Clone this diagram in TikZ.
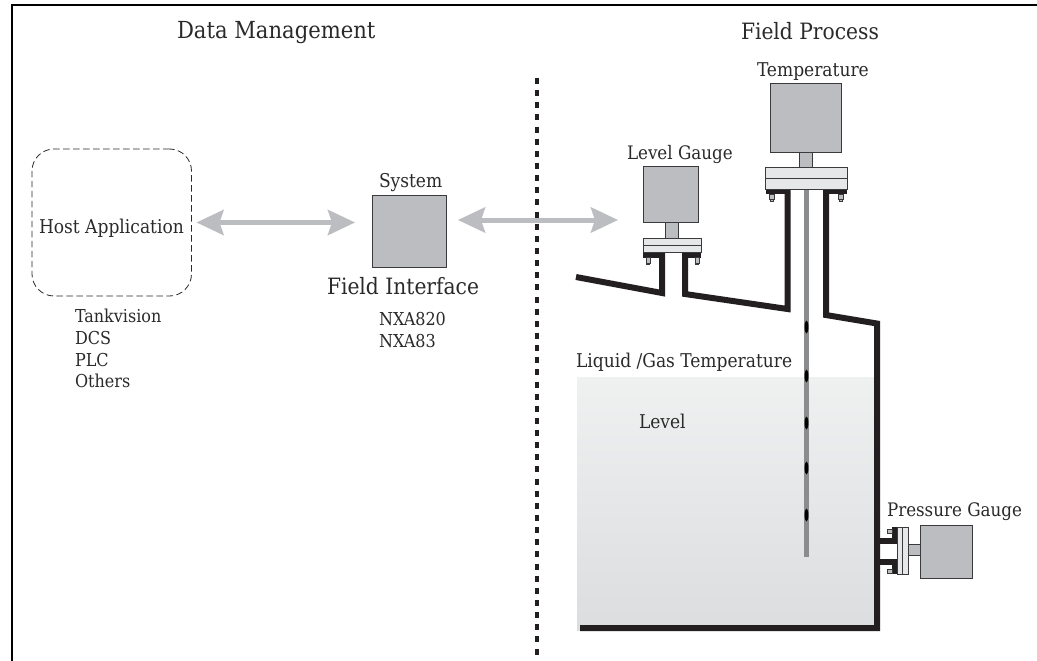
\documentclass[tikz,border=0pt]{standalone}
\usepackage{fontspec}
\setmainfont{DejaVu Serif Condensed}
\usetikzlibrary{arrows.meta}
\definecolor{ink}{HTML}{2B2A2B}
\definecolor{boxgray}{HTML}{BCBDC0}
\definecolor{flangegray}{HTML}{E6E7E8}
\definecolor{arrowgray}{HTML}{BCBDC0}
\definecolor{probegray}{HTML}{8A8C8E}
\definecolor{edgegray}{HTML}{3A3A3C}
\definecolor{pipeblack}{HTML}{231F20}
\definecolor{liquidtop}{HTML}{EFF0F0}
\definecolor{liquidbottom}{HTML}{DCDDDF}
\tikzset{
  lbl/.style={anchor=base west,inner sep=0pt,outer sep=0pt,text=ink},
  ftitle/.style={font=\fontsize{23.5}{23.5}\selectfont},
  fbig/.style={font=\fontsize{22.5}{22.5}\selectfont},
  fmid/.style={font=\fontsize{19}{19}\selectfont},
  fgauge/.style={font=\fontsize{18.6}{18.6}\selectfont},
  fsmall/.style={font=\fontsize{17.8}{17.8}\selectfont},
  graybox/.style={draw=edgegray,line width=1pt,fill=boxgray},
  neckbox/.style={draw=edgegray,line width=0.7pt,fill=boxgray},
  flangebox/.style={draw=edgegray,line width=0.8pt,fill=flangegray},
  pipe/.style={draw=pipeblack,line width=6pt,miter limit=10},
  bolt/.style={fill=boxgray,draw=edgegray,line width=0.5pt},
  biarrow/.style={draw=arrowgray,line width=5pt,{Stealth[length=27pt,width=25pt,inset=4pt]}-{Stealth[length=27pt,width=25pt,inset=4pt]}},
  frameline/.style={draw=black,line width=2.4pt},
  spindle/.style={fill=black},
}
\begin{document}
\begin{tikzpicture}[x=1pt,y=-1pt]
\useasboundingbox (0,0) rectangle (1037,661);
\fill[white] (0,0) rectangle (1037,661);
% frame
\draw[frameline] (12,661) -- (12,5) -- (1037,5);
% separator
\draw[draw=pipeblack,line width=4pt,dash pattern=on 6pt off 6.14pt] (537,78) -- (537,661);
% liquid
\shade[top color=liquidtop,bottom color=liquidbottom] (577,377) rectangle (877,630);
% tank walls
\draw[pipe] (576,277) -- (662,293) -- (662,253);
\draw[pipe] (685,253) -- (685,294) -- (787.5,309) -- (787.5,189);
\draw[pipe] (826,189) -- (826,315) -- (877,323.5) -- (877,628) -- (580,628);
% probe
\draw[draw=probegray,line width=4.4pt] (806.5,189) -- (806.5,557);
\foreach \yy in {327,376,423,468,515}
  \fill[spindle] (806.5,\yy) ellipse (1.9pt and 6.5pt);
% level gauge hardware
\fill[pipeblack] (643,252) rectangle (664,257.5);
\fill[pipeblack] (682,252) rectangle (701,257.5);
\foreach \xx in {648,697} {
  \draw[bolt] (\xx-2.2,257.5) rectangle (\xx+2.2,263);
  \draw[bolt] (\xx-1.4,263) rectangle (\xx+1.4,264.5);
}
\node[neckbox,minimum width=13pt,minimum height=16pt,inner sep=0pt,outer sep=0pt] (lgneck) at (671.5,230) {};
\draw[flangebox] (643.5,238) rectangle (701,252);
\draw[edgegray,line width=0.8pt] (643.5,245) -- (701,245);
\node[graybox,minimum width=55pt,minimum height=56pt,inner sep=0pt,outer sep=0pt] (lg) at (670.5,194) {};
% temperature hardware
\fill[pipeblack] (766,189) rectangle (790,194);
\fill[pipeblack] (823,189) rectangle (847,194);
\foreach \xx in {772,841} {
  \draw[bolt] (\xx-2.6,194) rectangle (\xx+2.6,199.5);
  \draw[bolt] (\xx-1.6,199.5) rectangle (\xx+1.6,201);
}
\node[neckbox,minimum width=13pt,minimum height=15pt,inner sep=0pt,outer sep=0pt] (tneck) at (805.5,159.5) {};
\draw[flangebox] (765,167) rectangle (847,189);
\draw[edgegray,line width=0.8pt] (765,178) -- (847,178);
\node[graybox,minimum width=71pt,minimum height=69pt,inner sep=0pt,outer sep=0pt] (temp) at (805.5,118) {};
% pressure gauge hardware
\fill[pipeblack] (877,537.5) rectangle (897,543.5);
\fill[pipeblack] (877,559) rectangle (897,565);
\fill[pipeblack] (892,527) rectangle (897,543);
\fill[pipeblack] (892,559) rectangle (897,574);
\draw[bolt] (887,528.8) rectangle (892,533.2);
\draw[bolt] (887,568.8) rectangle (892,573.2);
\node[neckbox,minimum width=12pt,minimum height=11pt,inner sep=0pt,outer sep=0pt] (pneck) at (914,549.5) {};
\draw[flangebox] (897,527) rectangle (908,574);
\draw[edgegray,line width=0.8pt] (902.5,527) -- (902.5,574);
\node[graybox,minimum width=52pt,minimum height=53pt,inner sep=0pt,outer sep=0pt] (pg) at (946,551.5) {};
% data management side
\node[draw=ink,line width=0.8pt,dash pattern=on 6.5pt off 3.5pt,rounded corners=22pt,minimum width=159.5pt,minimum height=147pt,inner sep=0pt,outer sep=0pt] (host) at (111.75,222.5) {};
\node[graybox,minimum width=74pt,minimum height=72pt,inner sep=0pt,outer sep=0pt] (fi) at (409,231) {};
\draw[biarrow,shorten <=5pt,shorten >=17pt] (host.east) -- (host.east -| fi.west);
\draw[biarrow,shorten <=12pt,shorten >=25pt] ([yshift=11pt]fi.east) -- ([yshift=-26pt]lg.west);
% labels
\node[lbl,ftitle] (t1) at (177,39) {Data Management};
\node[lbl,fbig] (t2) at (741,39.5) {Field Process};
\node[lbl,fmid] (t3) at (757,77) {Temperature};
\node[lbl,fgauge] (t4) at (627,159) {Level Gauge};
\node[lbl,fmid] (t5) at (379,187) {System};
\node[lbl,fbig] (t6) at (327,294) {Field Interface};
\node[lbl,fsmall] (t7) at (379,325) {NXA820};
\node[lbl,fsmall] (t8) at (379,347) {NXA83};
\node[lbl,fmid] (t9) at (39,233) {Host Application};
\node[lbl,fsmall] (t10) at (75,322) {Tankvision};
\node[lbl,fsmall] (t11) at (75,344) {DCS};
\node[lbl,fsmall] (t12) at (75,366) {PLC};
\node[lbl,fsmall] (t13) at (75,387) {Others};
\node[lbl,fmid] (t14) at (576,367) {Liquid /Gas Temperature};
\node[lbl,fmid] (t15) at (639,428) {Level};
\node[lbl,fgauge] (t16) at (887,516) {Pressure Gauge};
\end{tikzpicture}
\end{document}
